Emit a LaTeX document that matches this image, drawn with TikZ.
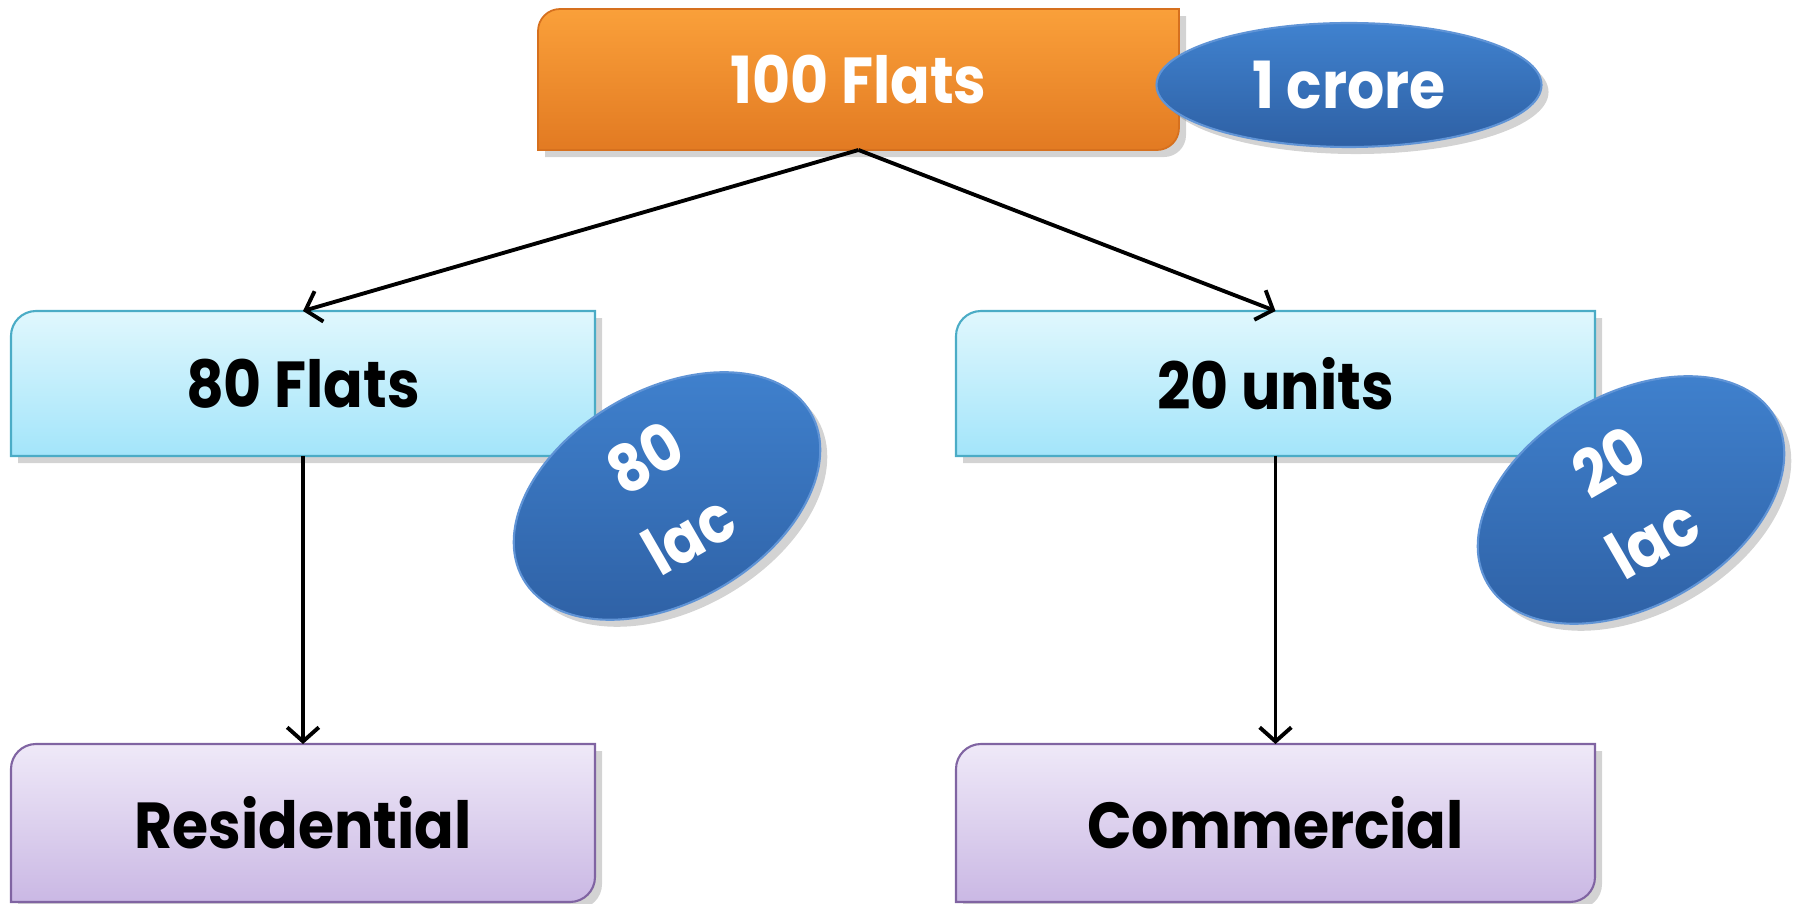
\documentclass[tikz,border=0pt]{standalone}
\usepackage{fontspec}
\setmainfont{Poppins}[FakeStretch=0.9]
\usetikzlibrary{shapes.geometric, arrows.meta, shadows, backgrounds}

\definecolor{orangetop}{RGB}{250,160,58}
\definecolor{orangebot}{RGB}{226,122,34}
\definecolor{orangeline}{RGB}{214,112,30}
\definecolor{cyantop}{RGB}{224,247,253}
\definecolor{cyanbot}{RGB}{163,229,250}
\definecolor{cyanline}{RGB}{75,172,198}
\definecolor{lilactop}{RGB}{239,233,248}
\definecolor{lilacbot}{RGB}{202,184,228}
\definecolor{lilacline}{RGB}{128,100,162}
\definecolor{bluetop}{RGB}{64,130,207}
\definecolor{bluebot}{RGB}{46,96,164}
\definecolor{blueline}{RGB}{96,148,214}

\begin{document}
\begin{tikzpicture}[
  boxtext/.style={inner sep=0pt, outer sep=0pt, font=\bfseries\fontsize{18.5}{21}\selectfont},
  boxshade/.style={drop shadow={shadow xshift=2pt, shadow yshift=-2pt, opacity=0.35}},
  orangebox/.style={boxshade, top color=orangetop, bottom color=orangebot, draw=orangeline, line width=0.5pt},
  cyanbox/.style={boxshade, top color=cyantop, bottom color=cyanbot, draw=cyanline, line width=0.6pt},
  lilacbox/.style={boxshade, top color=lilactop, bottom color=lilacbot, draw=lilacline, line width=0.6pt},
  coin/.style={ellipse, inner sep=0pt, draw=blueline, line width=0.6pt, top color=bluetop, bottom color=bluebot,
    text=white, align=center, font=\bfseries\fontsize{18.5}{25}\selectfont,
    drop shadow={shadow xshift=2pt, shadow yshift=-2pt, opacity=0.35}},
  link/.style={line width=1.1pt, -{Straight Barb[length=4pt, width=9pt]}}
]
\useasboundingbox (0,0) rectangle (17.95,-9.04);

% boxes
\node[boxtext, text=white, minimum width=6.41cm, minimum height=1.41cm] (flats100) at (8.585,-0.795) {100 Flats};
\node[boxtext, minimum width=5.84cm, minimum height=1.45cm] (flats80) at (3.03,-3.835) {80 Flats};
\node[boxtext, minimum width=6.39cm, minimum height=1.45cm] (units20) at (12.755,-3.835) {20 units};
\node[boxtext, minimum width=5.84cm, minimum height=1.58cm] (resi) at (3.03,-8.23) {Residential};
\node[boxtext, minimum width=6.39cm, minimum height=1.58cm] (comm) at (12.755,-8.23) {Commercial};

\begin{scope}[on background layer]
 \path[orangebox] ([yshift=-0.22cm]flats100.north west) arc[start angle=180, end angle=90, radius=0.22cm]
   -- (flats100.north east) -- ([yshift=0.22cm]flats100.south east) arc[start angle=0, end angle=-90, radius=0.22cm]
   -- (flats100.south west) -- cycle;
 \path[cyanbox] ([yshift=-0.25cm]flats80.north west) arc[start angle=180, end angle=90, radius=0.25cm]
   -- (flats80.north east) -- (flats80.south east) -- (flats80.south west) -- cycle;
 \path[cyanbox] ([yshift=-0.25cm]units20.north west) arc[start angle=180, end angle=90, radius=0.25cm]
   -- (units20.north east) -- (units20.south east) -- (units20.south west) -- cycle;
 \path[lilacbox] ([yshift=-0.25cm]resi.north west) arc[start angle=180, end angle=90, radius=0.25cm]
   -- (resi.north east) -- ([yshift=0.25cm]resi.south east) arc[start angle=0, end angle=-90, radius=0.25cm]
   -- (resi.south west) -- cycle;
 \path[lilacbox] ([yshift=-0.25cm]comm.north west) arc[start angle=180, end angle=90, radius=0.25cm]
   -- (comm.north east) -- ([yshift=0.25cm]comm.south east) arc[start angle=0, end angle=-90, radius=0.25cm]
   -- (comm.south west) -- cycle;
\end{scope}

% price tags
\node[coin, minimum width=3.85cm, minimum height=1.24cm] (crore) at (13.49,-0.85) {1 crore};
\node[coin, rotate=30, minimum width=3.32cm, minimum height=2.12cm] (lac80) at (6.67,-4.96) {80\\lac};
\node[coin, rotate=30, minimum width=3.32cm, minimum height=2.12cm] (lac20) at (16.31,-5.0) {20\\lac};

% arrows
\draw[link] (flats100.south) -- (flats80.north);
\draw[link] (flats100.south) -- (units20.north);
\draw[link] (flats80.south) -- (resi.north);
\draw[link] (units20.south) -- (comm.north);

\end{tikzpicture}
\end{document}
